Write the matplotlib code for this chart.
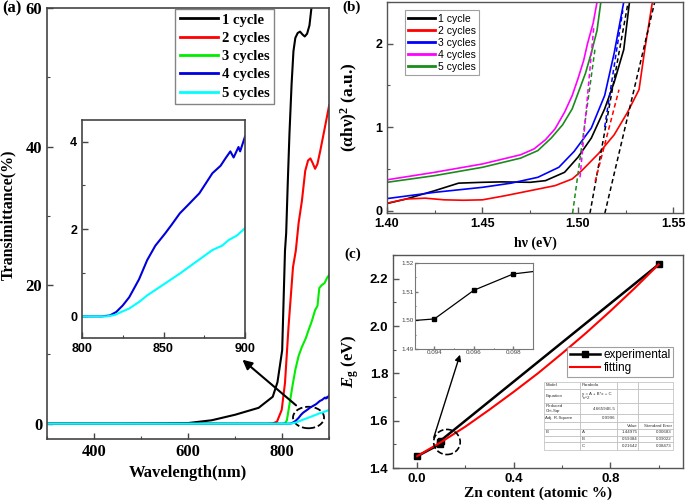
import numpy as np
import matplotlib.pyplot as plt
from matplotlib.patches import Ellipse
from matplotlib.ticker import MultipleLocator, FormatStrFormatter

plt.rcParams['font.family'] = ['Liberation Serif', 'DejaVu Sans']
plt.rcParams['mathtext.fontset'] = 'custom'
plt.rcParams['mathtext.rm'] = 'Liberation Serif'
plt.rcParams['mathtext.it'] = 'Liberation Serif:italic'
plt.rcParams['mathtext.bf'] = 'Liberation Serif:bold'
plt.rcParams['mathtext.bfit'] = 'Liberation Serif:italic:bold'
plt.rcParams['xtick.direction'] = 'in'
plt.rcParams['ytick.direction'] = 'in'

# ---- (a) transmittance spectra
nm_1 = [300, 450, 550, 600, 650, 700, 750, 780, 790, 800, 806, 808.5, 812, 815.5, 820, 824,
        828, 833, 838, 843, 848, 853, 858, 863]
t_1 = [0, 0, 0.05, 0.1, 0.5, 1.3, 2.3, 3.9, 6.0, 10.6, 25, 27.5, 35, 41.9, 49, 53.8,
       55.7, 56.4, 56.6, 56.2, 55.9, 56.3, 57.5, 60.5]
nm_2 = [300, 600, 770, 780, 789, 799, 806, 813.5, 823, 829, 835, 842, 849, 855, 860, 865,
        870, 875, 881, 890, 900]
t_2 = [0, 0, 0, 0.05, 0.3, 2, 5.9, 14, 22.6, 25, 29, 32.2, 36.5, 38, 38.3, 37.6,
       36.8, 37.5, 39.4, 42.5, 46]
nm_3 = [300, 600, 800, 806, 810, 817, 822, 828, 835, 842, 850, 856, 863, 870, 875, 879,
        884, 890, 895, 900]
t_3 = [0, 0, 0, 0.05, 0.5, 3.4, 5.5, 7.8, 9.8, 11.1, 12.3, 13.5, 14.8, 16.4, 17, 19.6,
       20, 20.3, 21, 21.5]
nm_4 = [300, 600, 800, 812, 817, 821, 825, 829, 835, 840, 845, 851, 855, 860, 865, 872,
        876, 880, 885, 888, 891, 893, 896, 897, 900]
t_4 = [0, 0, 0, 0, 0.02, 0.1, 0.25, 0.44, 0.85, 1.29, 1.62, 1.9, 2.1, 2.36, 2.55, 2.82,
       3.05, 3.28, 3.45, 3.62, 3.78, 3.64, 3.88, 3.78, 4.12]
nm_5 = [300, 600, 800, 815, 820, 824, 829, 835, 840, 850, 860, 870, 880, 886, 890, 895, 900]
t_5 = [0, 0, 0, 0, 0.03, 0.1, 0.18, 0.33, 0.48, 0.73, 0.98, 1.25, 1.52, 1.62, 1.75, 1.85, 2.02]
labels_a = ['1 cycle', '2 cycles', '3 cycles', '4 cycles', '5 cycles']
colors_a = ['black', '#ff0000', '#00ee00', '#0000dd', '#00ffff']

# ---- (b) Tauc plot
e_1 = [1.40, 1.41, 1.425, 1.4375, 1.45, 1.46, 1.475, 1.483, 1.493, 1.50, 1.507, 1.514, 1.519, 1.524, 1.527]
v_1 = [0.086, 0.14, 0.24, 0.33, 0.34, 0.345, 0.34, 0.36, 0.46, 0.64, 0.87, 1.22, 1.54, 1.93, 2.5]
e_2 = [1.40, 1.41, 1.42, 1.43, 1.44, 1.45, 1.462, 1.475, 1.488, 1.497, 1.502, 1.511, 1.519, 1.526, 1.532, 1.535, 1.539]
v_2 = [0.09, 0.14, 0.15, 0.13, 0.125, 0.13, 0.18, 0.24, 0.30, 0.38, 0.48, 0.69, 0.91, 1.18, 1.45, 1.93, 2.5]
e_3 = [1.40, 1.425, 1.45, 1.465, 1.479, 1.49, 1.498, 1.507, 1.514, 1.519, 1.524]
v_3 = [0.145, 0.22, 0.28, 0.33, 0.40, 0.52, 0.71, 0.99, 1.38, 1.89, 2.5]
e_4 = [1.40, 1.425, 1.45, 1.47, 1.477, 1.483, 1.488, 1.493, 1.497, 1.50, 1.503, 1.505, 1.508, 1.51]
v_4 = [0.37, 0.46, 0.56, 0.67, 0.74, 0.85, 0.98, 1.18, 1.38, 1.58, 1.80, 2.0, 2.25, 2.5]
e_5 = [1.40, 1.425, 1.45, 1.47, 1.479, 1.486, 1.492, 1.497, 1.504, 1.507, 1.51, 1.512]
v_5 = [0.34, 0.42, 0.52, 0.63, 0.72, 0.87, 1.03, 1.22, 1.65, 1.89, 2.16, 2.5]
labels_b = ['1 cycle', '2 cycles', '3 cycles', '4 cycles', '5 cycles']
colors_b = ['black', '#ff0000', '#0000ff', '#ff00ff', '#1a8c1a']
# tangent lines: start/end points and colour index
tan_e0 = [1.4972, 1.5011, 1.5063, 1.5090, 1.5140, 1.5141]
tan_v0 = [-0.03, 0.40, -0.03, 0.35, 1.00, -0.03]
tan_e1 = [1.5089, 1.5083, 1.5263, 1.5215, 1.5235, 1.5402]
tan_v1 = [1.93, 2.20, 2.50, 1.45, 2.40, 2.50]
tan_col = [4, 3, 0, 1, 2, 0]

# ---- (c) band gap vs Zn content
zn = [0.0, 0.094, 0.096, 0.098, 1.0]
eg = [1.4498, 1.5005, 1.5105, 1.5162, 2.26]
zn_fit = [0.0, 0.1, 0.2, 0.3, 0.4, 0.5, 0.6, 0.7, 0.8, 0.9, 1.0]
eg_fit = [1.450, 1.510, 1.575, 1.647, 1.722, 1.800, 1.884, 1.971, 2.063, 2.159, 2.260]
table_rows = [['Model', 'Parabola', '', ''],
              ['Equation', 'y = A + B*x + C\n*x^2', '', ''],
              ['Reduced\nChi-Sqr', '4.66594E-5', '', ''],
              ['Adj. R-Square', '0.9996', '', ''],
              ['', '', 'Value', 'Standard Error'],
              ['B', 'A', '1.44975', '0.00683'],
              ['', 'B', '0.59384', '0.09022'],
              ['', 'C', '0.21642', '0.08473']]

fig = plt.figure(figsize=(6.85, 5.04), dpi=100)

bold_serif = dict(family='Liberation Serif', weight='bold')
bold_sans = dict(family='Liberation Sans', weight='bold')


def style(ax, spine='#444444', lw=1.2):
    for s in ax.spines.values():
        s.set_color(spine)
        s.set_linewidth(lw)
    ax.tick_params(which='major', length=4, width=1, color=spine)
    ax.tick_params(which='minor', length=2.5, width=0.8, color=spine)


# (a)
axa = fig.add_axes([0.0686, 0.129, 0.412, 0.855])
for x, y, lab, c in zip([nm_1, nm_2, nm_3, nm_4, nm_5], [t_1, t_2, t_3, t_4, t_5], labels_a, colors_a):
    axa.plot(x, y, color=c, lw=1.5, label=lab)
axa.set_xlim(300, 900)
axa.set_ylim(-2.2, 60)
axa.xaxis.set_major_locator(MultipleLocator(200))
axa.xaxis.set_minor_locator(MultipleLocator(100))
axa.yaxis.set_major_locator(MultipleLocator(20))
axa.yaxis.set_minor_locator(MultipleLocator(10))
style(axa)
for lb in axa.get_xticklabels() + axa.get_yticklabels():
    lb.set_fontproperties(dict(bold_serif, size=12))
axa.set_xlabel('Wavelength(nm)', fontsize=12, fontweight='bold', labelpad=4)
axa.set_ylabel('Transimittance(%)', fontsize=11.5, fontweight='bold')
axa.yaxis.set_label_coords(-0.108, 0.52)
leg = axa.legend(loc='upper right', bbox_to_anchor=(0.805, 0.998), prop=dict(bold_serif, size=10.5),
                 fancybox=False, edgecolor='#666666', handlelength=2.6, handletextpad=0.3,
                 labelspacing=0.35, borderpad=0.3, borderaxespad=0)
leg.get_frame().set_linewidth(1)
for h in leg.get_lines():
    h.set_linewidth(2)
axa.add_patch(Ellipse((856, 0.9), 66, 3.1, fill=False, ls='--', lw=1.3, color='black', clip_on=False))
axa.annotate('', xy=(711, 9.5), xytext=(834, 2.4),
             arrowprops=dict(arrowstyle='-|>', color='black', lw=1.5, mutation_scale=14))

# (a) inset
axi = fig.add_axes([0.1197, 0.329, 0.238, 0.433])
axi.plot(nm_4, t_4, color=colors_a[3], lw=1.5)
axi.plot(nm_5, t_5, color=colors_a[4], lw=1.5)
axi.set_xlim(800, 900)
axi.set_ylim(-0.5, 4.5)
axi.xaxis.set_major_locator(MultipleLocator(50))
axi.xaxis.set_minor_locator(MultipleLocator(25))
axi.yaxis.set_major_locator(MultipleLocator(2))
axi.yaxis.set_minor_locator(MultipleLocator(1))
style(axi)
for lb in axi.get_xticklabels() + axi.get_yticklabels():
    lb.set_fontproperties(dict(bold_sans, size=9))

fig.text(0.003, 0.984, '(a)', fontsize=12, fontweight='bold', va='center')

# (b)
axb = fig.add_axes([0.565, 0.577, 0.432, 0.419])
for x, y, lab, c in zip([e_1, e_2, e_3, e_4, e_5], [v_1, v_2, v_3, v_4, v_5], labels_b, colors_b):
    axb.plot(x, y, color=c, lw=1.2, label=lab)
for x0, y0, x1, y1, ci in zip(tan_e0, tan_v0, tan_e1, tan_v1, tan_col):
    axb.plot([x0, x1], [y0, y1], color=colors_b[ci], lw=1.1, ls=(0, (3, 2)))
axb.set_xlim(1.40, 1.555)
axb.set_ylim(-0.03, 2.5)
axb.xaxis.set_major_locator(MultipleLocator(0.05))
axb.xaxis.set_minor_locator(MultipleLocator(0.025))
axb.xaxis.set_major_formatter(FormatStrFormatter('%.2f'))
axb.yaxis.set_major_locator(MultipleLocator(1))
axb.yaxis.set_minor_locator(MultipleLocator(0.5))
style(axb, spine='#555555', lw=1)
for lb in axb.get_xticklabels() + axb.get_yticklabels():
    lb.set_fontproperties(dict(bold_sans, size=9))
axb.set_xlabel('h\u03bd (eV)', fontsize=10, fontweight='bold', labelpad=5)
axb.set_ylabel('(\u03b1h\u03bd)$^\\mathbf{2}$ (a.u.)', fontsize=12.5, fontweight='bold')
axb.yaxis.set_label_coords(-0.092, 0.5)
legb = axb.legend(loc='upper left', bbox_to_anchor=(0.06, 0.96), prop=dict(family='Liberation Sans', size=7.5),
                  fancybox=False, edgecolor='#888888', handlelength=2.6, handletextpad=0.3,
                  labelspacing=0.2, borderpad=0.3, borderaxespad=0)
legb.get_frame().set_linewidth(0.8)
for h in legb.get_lines():
    h.set_linewidth(2)
fig.text(0.500, 0.986, '(b)', fontsize=11, fontweight='bold', va='center')

# (c)
axc = fig.add_axes([0.5737, 0.0714, 0.423, 0.4226])
axc.plot(zn, eg, color='black', lw=1.8, marker='s', ms=5, label='experimental', zorder=3)
axc.plot(zn_fit, eg_fit, color='#ff0000', lw=1.5, label='fitting', zorder=4)
axc.set_xlim(-0.1, 1.1)
axc.set_ylim(1.4, 2.3)
axc.xaxis.set_major_locator(MultipleLocator(0.4))
axc.xaxis.set_minor_locator(MultipleLocator(0.2))
axc.xaxis.set_major_formatter(FormatStrFormatter('%.1f'))
axc.yaxis.set_major_locator(MultipleLocator(0.2))
axc.yaxis.set_minor_locator(MultipleLocator(0.1))
axc.yaxis.set_major_formatter(FormatStrFormatter('%.1f'))
style(axc, spine='#555555', lw=1)
for lb in axc.get_xticklabels() + axc.get_yticklabels():
    lb.set_fontproperties(dict(bold_sans, size=9.5))
axc.set_xlabel('Zn content (atomic %)', fontsize=11, fontweight='bold', labelpad=1)
axc.set_ylabel(r'$\mathbfit{E}_\mathbf{g}$ (eV)', fontsize=12, fontweight='bold')
axc.yaxis.set_label_coords(-0.112, 0.5)
legc = axc.legend(loc='upper right', bbox_to_anchor=(0.968, 0.57), prop=dict(family='Liberation Sans', size=8.5),
                  fancybox=False, edgecolor='#888888', handlelength=2.6, handletextpad=0.3,
                  labelspacing=0.1, borderpad=0.2, borderaxespad=0)
legc.get_frame().set_linewidth(0.8)
axc.add_patch(Ellipse((0.1234, 1.51), 0.11, 0.106, fill=False, ls='--', lw=1.2, color='black', zorder=5))
axc.annotate('', xy=(0.181, 1.89), xytext=(0.0655, 1.518),
             arrowprops=dict(arrowstyle='-|>', color='black', lw=1, mutation_scale=9))

# (c) inset
axci = fig.add_axes([0.6054, 0.3075, 0.1727, 0.1706])
axci.plot(zn, eg, color='black', lw=0.9, marker='s', ms=3)
axci.set_xlim(0.093, 0.099)
axci.set_ylim(1.49, 1.52)
axci.xaxis.set_major_locator(MultipleLocator(0.002))
axci.xaxis.set_minor_locator(MultipleLocator(0.001))
axci.xaxis.set_major_formatter(FormatStrFormatter('%.3f'))
axci.yaxis.set_major_locator(MultipleLocator(0.01))
axci.yaxis.set_minor_locator(MultipleLocator(0.005))
axci.yaxis.set_major_formatter(FormatStrFormatter('%.2f'))
style(axci, spine='#777777', lw=0.8)
axci.tick_params(which='major', length=2, pad=1)
axci.tick_params(which='minor', length=1)
for lb in axci.get_xticklabels() + axci.get_yticklabels():
    lb.set_fontproperties(dict(family='Liberation Sans', size=4.5))
    lb.set_color('#444444')

# (c) fit table
axt = fig.add_axes([0.794, 0.107, 0.1885, 0.135])
axt.axis('off')
tab = axt.table(cellText=table_rows, bbox=[0, 0, 1, 1], colWidths=[0.28, 0.29, 0.16, 0.27], cellLoc='left')
tab.auto_set_font_size(False)
tab.set_fontsize(3.2)
row_h = [20, 43, 32, 25, 20, 20, 20, 23]
for (r, c), cell in tab.get_celld().items():
    cell.set_edgecolor('#bbbbbb')
    cell.set_linewidth(0.5)
    cell.set_height(row_h[r] / sum(row_h))
    cell.get_text().set_color('#333333')
    cell.get_text().set_fontfamily('Liberation Sans')
    cell.PAD = 0.04
    if (r in (2, 3) and c == 1) or (r >= 4 and c >= 2):
        cell.get_text().set_ha('right')
        cell._loc = 'right'
fig.text(0.503, 0.496, '(c)', fontsize=11, fontweight='bold', va='center')

fig.savefig('out.png', dpi=100)
